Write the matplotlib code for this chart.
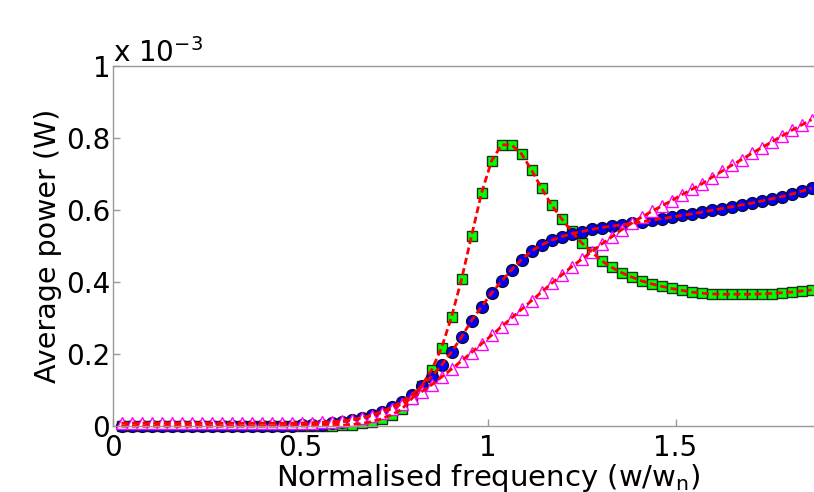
import numpy as np
import matplotlib
matplotlib.use("Agg")
import matplotlib.pyplot as plt

plt.rcParams['font.family'] = ['DejaVu Sans']
plt.rcParams['mathtext.default'] = 'regular'

# normalised frequency grid (w/wn), 70 samples visible in the frame
freq = np.linspace(0.0227, 1.8627, 70)

# average power, in units of 1e-3 W
p_square = [0.0]*20 + [
    0.001, 0.001, 0.002, 0.004, 0.007, 0.012, 0.020, 0.031, 0.046, 0.075,
    0.112, 0.155, 0.217, 0.303, 0.407, 0.528, 0.647, 0.736, 0.781, 0.781,
    0.756, 0.711, 0.661, 0.614, 0.576, 0.541, 0.509, 0.484, 0.459, 0.441,
    0.426, 0.414, 0.403, 0.395, 0.388, 0.382, 0.377, 0.372, 0.369, 0.367,
    0.366, 0.366, 0.366, 0.366, 0.367, 0.368, 0.370, 0.372, 0.375, 0.378]

p_circle = [0.0]*16 + [
    0.001, 0.001, 0.002, 0.003,
    0.004, 0.007, 0.011, 0.016, 0.022, 0.030, 0.040, 0.052, 0.067, 0.086,
    0.111, 0.137, 0.169, 0.206, 0.247, 0.293, 0.331, 0.369, 0.402, 0.434,
    0.462, 0.486, 0.503, 0.516, 0.526, 0.534, 0.540, 0.546, 0.551, 0.555,
    0.559, 0.563, 0.567, 0.571, 0.576, 0.580, 0.585, 0.589, 0.594, 0.599,
    0.604, 0.609, 0.614, 0.619, 0.625, 0.631, 0.637, 0.644, 0.652, 0.661]

p_triangle = [0.008]*19 + [
    0.009,
    0.010, 0.012, 0.014, 0.018, 0.023, 0.029, 0.037, 0.048, 0.061, 0.077,
    0.095, 0.114, 0.136, 0.158, 0.181, 0.204, 0.228, 0.252, 0.276, 0.300,
    0.324, 0.348, 0.372, 0.396, 0.419, 0.442, 0.463, 0.484, 0.505, 0.525,
    0.545, 0.563, 0.580, 0.596, 0.611, 0.626, 0.642, 0.657, 0.672, 0.690,
    0.707, 0.724, 0.740, 0.757, 0.773, 0.789, 0.805, 0.821, 0.836, 0.851]

fig = plt.figure(figsize=(8.14, 4.92), dpi=100)
# axes runs past the right edge of the picture, like the cropped original
ax = fig.add_axes([113/814, 66/492, 750/814, 360/492])

ax.plot(freq, p_square, 's', ms=7.5, mfc=(0, 1, 0), mec=(0.1, 0.2, 0.1), mew=1.0, clip_on=False)
ax.plot(freq, p_circle, 'o', ms=8.5, mfc=(0, 0, 1), mec=(0.05, 0.05, 0.2), mew=1.0, clip_on=False)
ax.plot(freq, p_triangle, '^', ms=8, mfc='white', mec=(1, 0, 1), mew=1.0, clip_on=False)

for p in (p_square, p_circle, p_triangle):
    ax.plot(freq, p, '--', color=(1, 0, 0), lw=2.0, dashes=(2.5, 1.3), clip_on=False)

ax.set_xlim(0, 2)
ax.set_ylim(0, 1)
ax.set_xticks([0, 0.5, 1, 1.5, 2])
ax.set_xticklabels(['0', '0.5', '1', '1.5', '2'])
ax.set_yticks([0, 0.2, 0.4, 0.6, 0.8, 1])
ax.set_yticklabels(['0', '0.2', '0.4', '0.6', '0.8', '1'])

for s in ax.spines.values():
    s.set_color('0.6')
    s.set_linewidth(1.0)
ax.tick_params(direction='in', length=5, width=1, color='0.6', labelsize=20,
               labelcolor='black')
ax.tick_params(axis='x', pad=6)
ax.tick_params(axis='y', pad=2)

ax.set_xlabel('Normalised frequency (w/w$_n$)', fontsize=21)
ax.xaxis.set_label_coords(0.5, -0.1)
ax.xaxis.label.set_va('top')
ax.set_ylabel('Average power (W)', fontsize=20.5)
ax.yaxis.set_label_coords(-0.068, 0.5)

ax.text(0.0, 1.011, 'x 10$^{-3}$', transform=ax.transAxes, fontsize=20,
        ha='left', va='baseline')

fig.savefig('out.png', dpi=100)
